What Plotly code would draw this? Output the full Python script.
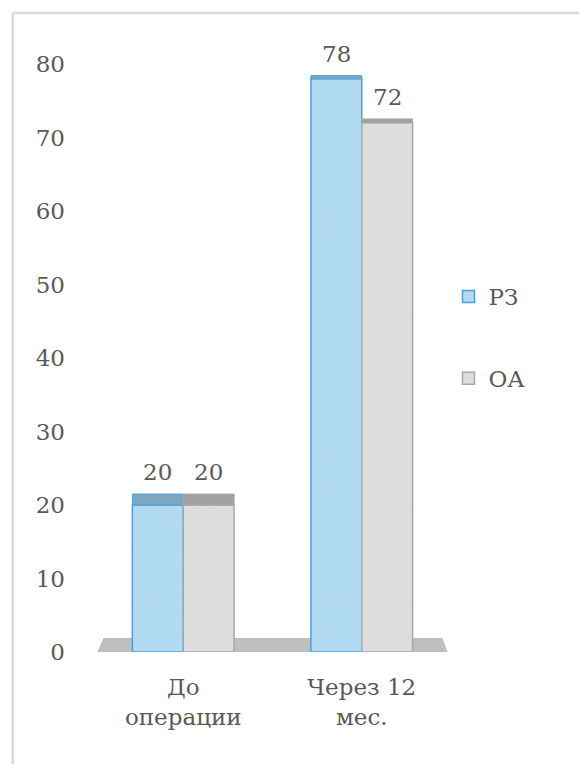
import plotly.graph_objects as go

# --- data ---
categories = ["До<br>операции", "Через 12<br>мес."]
series_names = ["РЗ", "ОА"]
rz_values = [20, 78]
oa_values = [20, 72]
y_ticks = [0, 10, 20, 30, 40, 50, 60, 70, 80]

# --- geometry / style ---
W_FIG, H_FIG = 579, 764
M_L, M_R, M_T, M_B = 93.5, 127.5, 64, 112
PLOT_W = W_FIG - M_L - M_R
PLOT_H = H_FIG - M_T - M_B
BARGAP = 0.43
FONT = "DejaVu Serif"
TEXT_COLOR = "#595959"
FS = 23

styles = [
    dict(fill="#b3dcf2", pattern="#8fc3e0", line="#4d9fd6", cap="#7fa6c2"),
    dict(fill="#dedede", pattern="#c4c4c4", line="#a8a8a8", cap="#a0a0a0"),
]


def cap_height(v):
    # depth of the top face in the 3D perspective, in pixels
    return 0.136 * (100.5 - v)


def px_to_paper_x(px):
    return (px - M_L) / PLOT_W


def px_to_paper_y(py):
    return (H_FIG - M_B - py) / PLOT_H


fig = go.Figure()
series_values = [rz_values, oa_values]
for i, (name, vals) in enumerate(zip(series_names, series_values)):
    st = styles[i]
    fig.add_trace(go.Bar(
        x=categories, y=vals, name=name, legendgroup=name,
        marker=dict(
            color=st["fill"],
            line=dict(color=st["line"], width=1.5),
            pattern=dict(shape="x", size=4, solidity=0.12,
                         fgcolor=st["pattern"], bgcolor=st["fill"]),
        ),
    ))

bar_w = (1 - BARGAP) / 2
shapes = []
annotations = []

# floor slab under the bars
shapes.append(dict(
    type="path", layer="below", xref="paper", yref="y",
    ysizemode="pixel", yanchor=0,
    path="M {a},0 L {b},14 L {c},14 L {d},0 Z".format(
        a=px_to_paper_x(97), b=px_to_paper_x(103),
        c=px_to_paper_x(443), d=px_to_paper_x(448)),
    fillcolor="#bfbfbf", line=dict(width=0),
))

for i, vals in enumerate(series_values):
    st = styles[i]
    for j, v in enumerate(vals):
        x0 = j - bar_w + i * bar_w
        x1 = x0 + bar_w
        h = cap_height(v)
        shapes.append(dict(
            type="rect", xref="x", yref="y", ysizemode="pixel", yanchor=v,
            x0=x0, x1=x1, y0=0, y1=h,
            fillcolor=st["cap"], line=dict(color=st["line"], width=1),
        ))
        annotations.append(dict(
            x=(x0 + x1) / 2, y=v, xref="x", yref="y",
            text=str(v), showarrow=False, yanchor="bottom",
            yshift=h + 7,
            font=dict(family=FONT, size=FS, color=TEXT_COLOR),
        ))

# chart area outline (left and top edges)
border_col = "#dadada"
shapes.append(dict(type="line", xref="paper", yref="paper",
                   x0=px_to_paper_x(12), x1=px_to_paper_x(12),
                   y0=px_to_paper_y(13), y1=px_to_paper_y(H_FIG + 5),
                   line=dict(color=border_col, width=2.5)))
shapes.append(dict(type="line", xref="paper", yref="paper",
                   x0=px_to_paper_x(12), x1=px_to_paper_x(W_FIG + 5),
                   y0=px_to_paper_y(13), y1=px_to_paper_y(13),
                   line=dict(color=border_col, width=2.5)))

fig.update_layout(
    width=W_FIG, height=H_FIG,
    margin=dict(l=M_L, r=M_R, t=M_T, b=M_B, autoexpand=False),
    paper_bgcolor="white", plot_bgcolor="white",
    barmode="group", bargap=BARGAP, bargroupgap=0,
    font=dict(family=FONT, size=FS, color=TEXT_COLOR),
    shapes=shapes, annotations=annotations,
    legend=dict(
        x=px_to_paper_x(449), y=px_to_paper_y(275),
        xanchor="left", yanchor="top",
        traceorder="grouped", tracegroupgap=49,
        font=dict(family=FONT, size=FS, color=TEXT_COLOR),
        itemwidth=30, bgcolor="rgba(0,0,0,0)",
    ),
    xaxis=dict(showgrid=False, showline=False, zeroline=False,
               ticks="", ticklabelstandoff=19,
               tickfont=dict(family=FONT, size=FS, color=TEXT_COLOR)),
    yaxis=dict(range=[0, 80], tickvals=y_ticks, showgrid=False,
               showline=False, zeroline=False, ticks="",
               ticklabelstandoff=28,
               tickfont=dict(family=FONT, size=FS, color=TEXT_COLOR)),
)

fig.write_html("out.html")
